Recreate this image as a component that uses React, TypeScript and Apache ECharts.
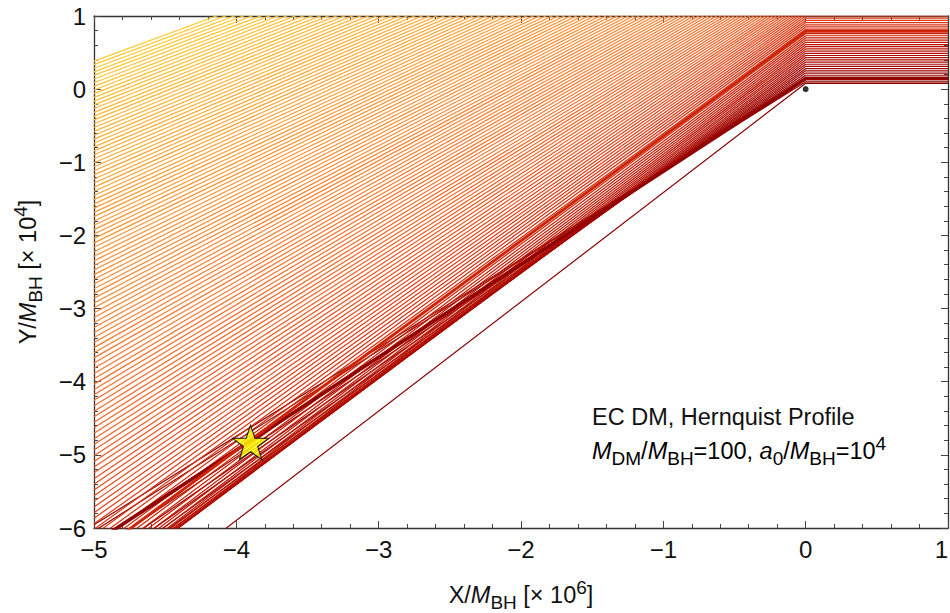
import React, { useEffect, useRef } from "react";
import * as echarts from "echarts";

// Impact parameter of each ray (Y/M_BH, x10^4), read along the right-hand side / top edge
const rayImpact: number[] = [
  0.08, 0.1, 0.13, 0.16, 0.19, 0.22, 0.25, 0.28, 0.31, 0.34, 0.37, 0.4, 0.43, 0.46, 0.49,
  0.52, 0.55, 0.58, 0.61, 0.64, 0.67, 0.7, 0.73, 0.76, 0.79, 0.82, 0.85, 0.88, 0.91, 0.94, 0.97,
  1.0, 1.03, 1.06, 1.09, 1.12, 1.15, 1.18, 1.21, 1.24, 1.27, 1.3, 1.33, 1.36, 1.39, 1.42, 1.45,
  1.48, 1.51, 1.54, 1.57, 1.6, 1.63, 1.66, 1.69, 1.72, 1.75, 1.78, 1.81, 1.84, 1.87, 1.9, 1.93,
  1.96, 1.99, 2.02, 2.05, 2.08, 2.11, 2.14, 2.17, 2.2, 2.23, 2.26, 2.29, 2.32, 2.35, 2.38, 2.41,
  2.44, 2.47, 2.5, 2.53, 2.56, 2.59, 2.62, 2.65, 2.68, 2.71, 2.74, 2.77, 2.8, 2.83, 2.86, 2.89,
  2.92, 2.95, 2.98, 3.01, 3.04, 3.07, 3.1, 3.13, 3.16, 3.19, 3.22, 3.25, 3.28, 3.31, 3.34, 3.37,
  3.4, 3.43, 3.46, 3.49, 3.52, 3.55, 3.58, 3.61, 3.64, 3.67, 3.7, 3.73, 3.76, 3.79, 3.82, 3.85,
  3.88, 3.91, 3.94, 3.97,
];

// Slope of each ray after it is bent at X = 0 (dY/dX in the plotted units)
const raySlope: number[] = [
  1.494, 1.2114, 1.2346, 1.2695, 1.3051, 1.3379, 1.3665, 1.3909, 1.4113, 1.4279, 1.4412,
  1.4515, 1.4591, 1.4645, 1.4678, 1.4693, 1.4693, 1.468, 1.4654, 1.4619, 1.4574, 1.4521, 1.4461,
  1.4395, 1.4324, 1.425, 1.4171, 1.4088, 1.4004, 1.3914, 1.3824, 1.3733, 1.3641, 1.3547, 1.3452,
  1.3357, 1.3262, 1.3166, 1.307, 1.2972, 1.2875, 1.2779, 1.2683, 1.2589, 1.2495, 1.2402, 1.2309,
  1.2218, 1.2127, 1.2036, 1.1945, 1.1856, 1.1767, 1.1679, 1.1592, 1.1506, 1.1421, 1.1336, 1.1253,
  1.117, 1.1088, 1.1008, 1.0928, 1.0848, 1.077, 1.0693, 1.0616, 1.0541, 1.0466, 1.0392, 1.0319,
  1.0247, 1.0176, 1.0105, 1.0036, 0.9967, 0.9899, 0.9832, 0.9765, 0.97, 0.9635, 0.9571, 0.9507,
  0.9445, 0.9383, 0.9321, 0.9261, 0.9201, 0.9142, 0.9084, 0.9026, 0.8969, 0.8913, 0.8857, 0.8802,
  0.8747, 0.8694, 0.864, 0.8588, 0.8536, 0.8484, 0.8433, 0.8383, 0.8333, 0.8284, 0.8235, 0.8187,
  0.814, 0.8093, 0.8046, 0.8, 0.7954, 0.7909, 0.7865, 0.782, 0.7777, 0.7734, 0.7691, 0.7649,
  0.7607, 0.7565, 0.7524, 0.7484, 0.7443, 0.7404, 0.7364, 0.7325, 0.7287, 0.7249, 0.7211, 0.7174,
];

// The two rays that reach the observer (drawn thicker)
const imageImpact: number[] = [0.145, 0.79];
const imageSlope: number[] = [1.27, 1.4324];

// Observer (star) and lens centre (dot)
const observerPoint: number[] = [-3.9, -4.83];
const lensPoint: number[] = [0, 0];

// Axis ranges and tick labels
const xRange: number[] = [-5, 1];
const yRange: number[] = [-6, 1];
const xTickLabels: string[] = ["\u22125", "\u22124", "\u22123", "\u22122", "\u22121", "0", "1"];
const yTickLabels: string[] = ["\u22126", "\u22125", "\u22124", "\u22123", "\u22122", "\u22121", "0", "1"];

// colour ramp along the impact parameter
const colorStops: [number, number[]][] = [
  [0.0, [130, 0, 0]],
  [0.3, [160, 5, 0]],
  [0.7, [200, 25, 0]],
  [1.0, [225, 60, 20]],
  [1.4, [240, 95, 35]],
  [2.0, [250, 125, 45]],
  [2.8, [254, 155, 50]],
  [3.5, [255, 182, 50]],
  [4.0, [255, 205, 50]],
];

function rayColor(b: number): string {
  for (let i = 0; i < colorStops.length - 1; i++) {
    const [b0, c0] = colorStops[i];
    const [b1, c1] = colorStops[i + 1];
    if (b <= b1 || i === colorStops.length - 2) {
      const t = Math.max(0, Math.min(1, (b - b0) / (b1 - b0)));
      const c = c0.map((v, k) => Math.round(v + (c1[k] - v) * t));
      return `rgb(${c[0]},${c[1]},${c[2]})`;
    }
  }
  return "rgb(255,205,50)";
}

const STAR =
  "path://M0,-10 L2.35,-3.24 L9.51,-3.09 L3.8,1.24 L5.88,8.09 L0,4 L-5.88,8.09 L-3.8,1.24 L-9.51,-3.09 L-2.35,-3.24 Z";

const FONT = "'Liberation Sans', Arial, Helvetica, sans-serif";

const richStyles = {
  n: { fontSize: 23.5, fontFamily: FONT, color: "#111", lineHeight: 34 },
  i: { fontSize: 23.5, fontFamily: FONT, color: "#111", fontStyle: "italic", lineHeight: 34 },
  sub: { fontSize: 19, fontFamily: FONT, color: "#111", verticalAlign: "bottom", lineHeight: 12 },
  sup: { fontSize: 19, fontFamily: FONT, color: "#111", verticalAlign: "top", lineHeight: 22 },
};

export default function App() {
  const ref = useRef<HTMLDivElement>(null);
  useEffect(() => {
    if (!ref.current) return;
    const chart = echarts.init(ref.current, null, { renderer: "svg" });

    const raySeries = rayImpact.map((b, i) => ({
      type: "line",
      data: [
        [xRange[1], b],
        [0, b],
        [xRange[0], b + xRange[0] * raySlope[i]],
      ],
      symbol: "none",
      silent: true,
      clip: true,
      z: 2,
      lineStyle: { color: rayColor(b), width: 1.2 },
    }));

    const imageSeries = imageImpact.map((b, i) => ({
      type: "line",
      data: [
        [xRange[1], b],
        [0, b],
        [xRange[0], b + xRange[0] * imageSlope[i]],
      ],
      symbol: "none",
      silent: true,
      clip: true,
      z: 3,
      lineStyle: { color: rayColor(b), width: i === 0 ? 3.5 : 3 },
    }));

    const axisCommon = {
      type: "value",
      axisLine: { show: true, onZero: false, lineStyle: { color: "#333", width: 1.3 } },
      axisTick: { show: true, inside: true, length: 7, lineStyle: { color: "#444", width: 1 } },
      minorTick: { show: true, splitNumber: 5, length: 4, lineStyle: { color: "#444", width: 1 } },
      splitLine: { show: false },
      minorSplitLine: { show: false },
    };

    const option: any = {
      animation: false,
      grid: {
        left: 94,
        right: 2,
        top: 16,
        bottom: 85,
        containLabel: false,
        outerBoundsMode: "none",
      },
      xAxis: [
        {
          ...axisCommon,
          position: "bottom",
          min: xRange[0],
          max: xRange[1],
          interval: 1,
          axisLabel: {
            margin: 9,
            fontSize: 24,
            fontFamily: FONT,
            color: "#111",
            alignMaxLabel: "right",
            formatter: (v: number) => xTickLabels[Math.round(v - xRange[0])] ?? "",
          },
          name: "{n|X/}{i|M}{sub|BH}{n| [× 10}{sup|6}{n|]}",
          nameLocation: "middle",
          nameGap: 50,
          nameTextStyle: { rich: richStyles },
        },
        {
          ...axisCommon,
          position: "top",
          min: xRange[0],
          max: xRange[1],
          interval: 1,
          axisLabel: { show: false },
        },
      ],
      yAxis: [
        {
          ...axisCommon,
          position: "left",
          min: yRange[0],
          max: yRange[1],
          interval: 1,
          axisLabel: {
            margin: 8,
            fontSize: 24,
            fontFamily: FONT,
            color: "#111",
            formatter: (v: number) => yTickLabels[Math.round(v - yRange[0])] ?? "",
          },
          name: "{n|Y/}{i|M}{sub|BH}{n| [× 10}{sup|4}{n|]}",
          nameLocation: "middle",
          nameGap: 49,
          nameRotate: 90,
          nameTextStyle: { rich: richStyles },
        },
        {
          ...axisCommon,
          position: "right",
          min: yRange[0],
          max: yRange[1],
          interval: 1,
          axisLabel: { show: false },
        },
      ],
      series: [
        ...raySeries,
        ...imageSeries,
        {
          type: "scatter",
          data: [lensPoint],
          symbol: "circle",
          symbolSize: 6,
          itemStyle: { color: "#000" },
          silent: true,
          z: 5,
        },
        {
          type: "scatter",
          data: [observerPoint],
          symbol: STAR,
          symbolSize: [36, 34],
          itemStyle: { color: "#ffff00", borderColor: "#000", borderWidth: 1.2 },
          silent: true,
          z: 10,
        },
      ],
      graphic: [
        {
          type: "text",
          left: 592,
          top: 405,
          z: 20,
          style: {
            text: "EC DM, Hernquist Profile",
            font: `23.5px ${FONT}`,
            fill: "#111",
          },
        },
        {
          type: "text",
          left: 592,
          top: 434,
          z: 20,
          style: {
            text: "{i|M}{sub|DM}{n|/}{i|M}{sub|BH}{n|=100, }{i|a}{sub|0}{n|/}{i|M}{sub|BH}{n|=10}{sup|4}",
            rich: richStyles,
          },
        },
      ],
    };

    chart.setOption(option);
    return () => chart.dispose();
  }, []);

  return (
    <div
      ref={ref}
      style={{ position: "absolute", left: 0, top: 0, width: 950, height: 613, background: "#fff" }}
    />
  );
}
